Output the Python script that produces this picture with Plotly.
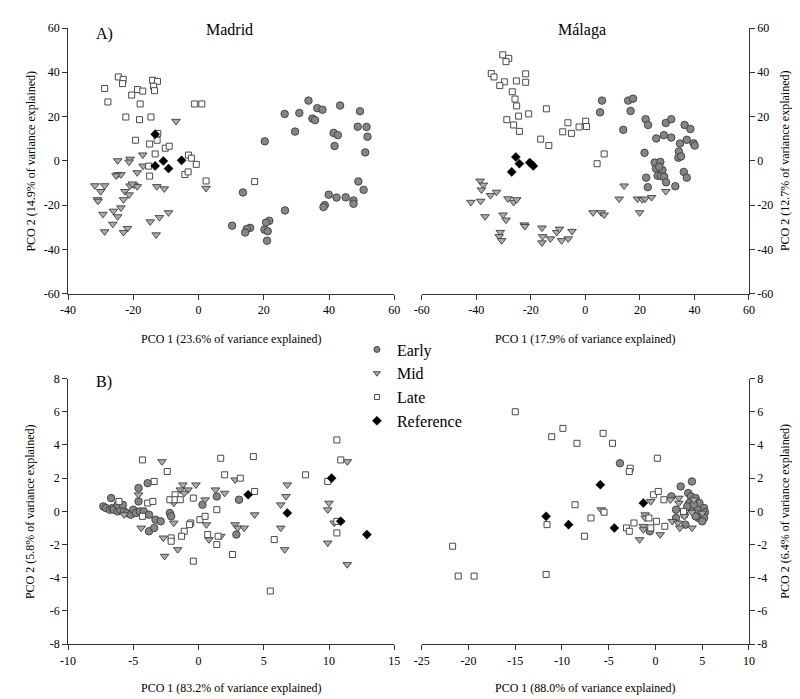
import plotly.graph_objects as go

# ---------------- Data ----------------
# Panel A, Madrid
madrid_a_early_x = [33.7,36.4,38.0,43.4,49.5,26.4,30.9,34.9,35.7,48.8,51.5,51.8,29.6,41.4,42.7,41.7,51.1,20.3,49.0,50.6,39.9,42.3,45.1,47.5,47.5,38.7,38.3,13.6,10.3,26.5,21.7,20.7,15.8,14.8,14.3,20.2,21.2,21.0]
madrid_a_early_y = [27.2,23.8,23.1,25.0,22.4,21.2,21.6,19.1,18.4,15.4,15.3,10.9,13.2,12.6,11.6,6.7,3.8,8.8,-9.3,-13.1,-15.3,-16.6,-16.5,-17.9,-19.4,-20.0,-20.9,-14.3,-29.3,-22.4,-27.1,-27.9,-30.3,-30.8,-32.4,-31.1,-31.8,-36.1]
madrid_a_mid_x = [-6.9,-24.8,-21.0,-21.3,-17.1,-17.0,-18.8,-24.8,-23.8,-25.3,-31.8,-28.8,-30.0,-31.0,-30.8,-21.0,-19.8,-18.8,-20.3,-22.6,-21.3,-23.0,-12.8,-10.5,-23.8,-26.1,-29.3,-24.8,-26.3,-9.2,-12.0,-14.8,-21.8,-23.0,-28.8,-13.0,2.3]
madrid_a_mid_y = [17.9,0.1,0.8,-0.5,2.7,-2.3,-5.3,-6.2,-6.2,-6.7,-11.2,-11.2,-13.8,-17.5,-18.2,-11.3,-10.9,-11.6,-10.4,-13.8,-15.3,-17.5,-11.6,-12.6,-21.2,-22.7,-24.1,-25.2,-28.6,-23.4,-25.6,-27.5,-30.5,-32.3,-32.0,-33.4,-12.4]
madrid_a_late_x = [-24.6,-23.1,-23.3,-28.8,-14.1,-12.6,-13.8,-13.5,-18.7,-17.1,-20.5,-27.8,-17.9,-1.2,1.0,-22.3,-18.1,-14.6,-12.5,-19.3,-15.0,-12.7,-10.2,-9.0,-13.3,-3.1,-2.2,-0.7,-15.3,-15.0,-4.2,-3.2,2.3,17.2]
madrid_a_late_y = [37.9,36.8,34.9,32.7,36.4,35.9,33.7,31.7,32.2,31.5,29.7,26.6,25.7,25.7,25.7,19.8,18.6,19.8,12.4,9.3,7.6,9.3,5.7,6.6,3.1,2.6,1.2,-1.6,-2.4,-6.9,-6.2,-5.0,-9.1,-9.4]
madrid_a_ref_x = [-13.3,-13.3,-10.8,-9.2,-5.2]
madrid_a_ref_y = [12.0,-2.3,-0.1,-3.5,0.2]

# Panel A, Malaga
malaga_a_early_x = [6.1,5.4,15.7,17.5,16.6,22.1,23.0,29.5,31.5,36.4,38.5,13.9,26.0,28.8,31.5,34.7,37.2,39.7,40.1,21.7,34.3,34.1,35.1,25.4,27.5,25.9,28.3,26.5,27.7,28.9,29.6,22.3,22.9,33.0,36.1,37.2,27.1]
malaga_a_early_y = [27.2,21.9,27.2,28.1,22.5,18.8,16.2,17.1,18.8,16.2,14.4,14.0,10.1,11.6,10.5,7.8,9.5,7.9,6.9,3.6,4.2,1.4,2.0,-0.8,-0.5,-3.5,-4.2,-6.7,-6.9,-7.2,-9.7,-7.6,-11.9,-11.5,-5.0,-7.6,-2.7]
malaga_a_mid_x = [-38.6,-37.4,-38.1,-42.0,-38.4,-34.8,-32.6,-28.4,-26.3,-25.2,-36.8,-30.2,-29.1,-22.4,-22.2,-31.2,-31.6,-30.7,-15.9,-15.7,-15.9,-12.8,-10.5,-9.5,-8.7,-6.3,-4.9,14.2,12.4,19.1,20.9,21.9,24.3,29.5,2.8,5.8,6.9,19.9]
malaga_a_mid_y = [-9.1,-10.9,-13.1,-18.7,-18.2,-15.6,-14.1,-17.1,-18.7,-17.5,-25.2,-24.4,-26.7,-28.9,-29.6,-32.3,-34.2,-36.0,-30.3,-34.2,-37.0,-35.2,-32.3,-30.8,-36.0,-35.2,-31.8,-11.3,-17.2,-17.2,-17.5,-17.2,-16.5,-13.8,-23.4,-23.4,-24.4,-23.4]
malaga_a_late_x = [-30.3,-28.1,-29.1,-34.5,-33.5,-29.7,-31.4,-25.3,-21.9,-21.9,-26.8,-25.8,-25.2,-28.8,-26.3,-24.5,-24.2,-20.8,-14.3,-16.4,-13.4,-6.4,-8.3,-5.1,0.1,-2.3,0.4,6.9,4.3]
malaga_a_late_y = [47.9,46.3,44.8,39.4,37.9,35.7,34.0,36.1,39.3,35.5,31.2,27.9,24.8,18.6,16.2,20.2,13.3,21.2,23.5,9.8,6.9,17.2,13.1,12.4,17.9,15.3,15.5,3.1,-1.3]
malaga_a_ref_x = [-25.5,-24.2,-20.4,-19.1,-27.0]
malaga_a_ref_y = [1.7,-1.3,-0.8,-2.3,-5.0]

# Panel B, Madrid
madrid_b_early_x = [-3.9,-4.6,-4.6,-6.7,1.4,0.3,3.1,2.9,-7.3,-7.1,-6.8,-6.6,-6.5,-6.2,-6.0,-5.7,-5.5,-5.2,-5.0,-4.8,-4.5,-4.2,-3.8,-6.2,-5.8,-2.2,-2.1,-3.3,-2.9,-3.8,-3.4]
madrid_b_early_y = [1.7,1.4,0.6,0.8,0.9,0.4,0.7,-1.4,0.3,0.2,0.1,0.2,0.1,0.0,0.1,0.0,-0.1,-0.2,0.1,-0.1,0.0,0.0,-0.2,0.4,0.4,-0.1,-0.3,-0.5,-0.6,-1.2,-1.0]
madrid_b_mid_x = [-2.8,-1.2,-0.2,-1.4,-0.8,-1.1,-4.6,-1.9,0.5,1.3,2.0,2.8,-5.7,-1.9,0.6,-4.4,-2.7,0.8,1.7,-1.6,-2.6,11.4,6.8,6.7,6.3,10.0,9.9,4.3,2.8,3.0,3.5,6.3,10.4,6.6,9.9,11.4]
madrid_b_mid_y = [3.0,1.6,1.6,1.3,1.3,1.1,1.0,0.5,0.7,1.3,1.1,1.9,-0.2,-0.7,-0.8,-1.0,-1.6,-1.7,-1.5,-2.3,-2.7,3.0,1.6,0.9,0.4,0.5,0.1,-0.2,-0.8,-1.0,-1.0,-1.0,-0.7,-2.3,-1.9,-3.2]
madrid_b_late_x = [-4.3,-2.4,-3.4,-6.1,-3.9,-3.5,-1.8,-2.2,-1.8,-1.4,-0.4,-4.3,1.4,0.1,0.5,-0.6,-0.7,-1.1,-1.3,-2.1,-2.1,0.7,1.5,1.4,2.6,-0.4,1.7,2.0,3.2,10.6,10.9,4.2,4.3,8.2,9.9,5.8,10.6,10.6,5.5]
madrid_b_late_y = [3.1,2.4,1.8,0.6,0.5,0.6,1.0,0.7,0.7,0.7,0.8,-0.3,0.1,-0.5,-0.3,-0.7,-0.8,-1.2,-1.5,-1.6,-1.8,-1.4,-1.5,-2.0,-2.6,-3.0,3.2,2.2,2.0,4.3,3.1,3.3,1.2,2.2,1.8,-1.7,-0.6,-1.3,-4.8]
madrid_b_ref_x = [10.2,3.8,6.8,10.9,12.9]
madrid_b_ref_y = [2.0,1.0,-0.1,-0.6,-1.4]

# Panel B, Malaga
malaga_b_early_x = [-3.8,2.7,3.9,1.7,3.5,3.8,4.3,3.6,4.7,2.2,3.9,4.5,5.2,5.3,5.0,4.6,5.2,5.0,4.3,2.2,3.2,-0.6,3.1,3.4,4.1]
malaga_b_early_y = [2.9,1.5,1.8,0.9,1.1,0.9,0.8,0.5,0.5,0.1,0.1,0.1,0.2,-0.05,-0.3,-0.4,-0.4,-0.6,-0.3,-0.4,-0.8,-1.2,-0.2,0.3,0.4]
malaga_b_mid_x = [-5.8,-0.5,1.6,2.5,2.5,-1.1,-1.1,1.8,2.4,3.1,3.9,-1.3,-1.3,2.6,3.9,0.5,-1.7,5.0,4.1]
malaga_b_mid_y = [0.1,0.6,0.7,0.8,0.5,-0.2,-0.4,-0.6,-0.7,-0.3,-0.05,-0.9,-1.1,-1.0,-1.0,-1.4,-1.7,-0.1,0.7]
malaga_b_late_x = [-15.0,-9.9,-11.1,-8.4,-8.6,-11.6,-7.6,-21.7,-21.1,-19.4,-11.7,-5.6,-4.6,0.2,-2.7,-2.8,-5.5,-6.9,-0.2,0.3,0.9,-0.7,-2.3,-3.1,-2.8,0.1,-0.5,1.0,3.0]
malaga_b_late_y = [6.0,5.0,4.5,4.1,0.4,-0.8,-1.5,-2.1,-3.9,-3.9,-3.8,4.7,4.1,3.2,2.6,2.4,-0.05,-0.4,1.0,1.2,0.7,-0.4,-0.7,-1.0,-1.2,-0.6,-1.0,-0.9,0.0]
malaga_b_ref_x = [-11.7,-9.3,-5.9,-1.3,-4.4]
malaga_b_ref_y = [-0.3,-0.8,1.6,0.5,-1.0]

# Tick values / labels
a_left_xticks = [-40, -20, 0, 20, 40, 60]
a_right_xticks = [-60, -40, -20, 0, 20, 40, 60]
a_yticks = [-60, -40, -20, 0, 20, 40, 60]
b_left_xticks = [-10, -5, 0, 5, 10, 15]
b_right_xticks = [-25, -20, -15, -10, -5, 0, 5, 10]
b_yticks = [-8, -6, -4, -2, 0, 2, 4, 6, 8]

group_names = ["Early", "Mid", "Late", "Reference"]

# ---------------- Styling ----------------
FONT = "Liberation Serif, Times New Roman, serif"
INK = "#000000"
styles = {
    "Early": dict(symbol="circle", size=7.5, color="#858585", line=dict(color="#3c3c3c", width=0.9)),
    "Mid": dict(symbol="triangle-down", size=7.5, color="#ababab", line=dict(color="#3c3c3c", width=0.9)),
    "Late": dict(symbol="square", size=6, color="#ffffff", line=dict(color="#4a4a4a", width=1)),
    "Reference": dict(symbol="diamond", size=7, color="#000000", line=dict(color="#000000", width=0.5)),
}

fig = go.Figure()

panels = [
    ("x", "y", [(madrid_a_early_x, madrid_a_early_y), (madrid_a_mid_x, madrid_a_mid_y),
                (madrid_a_late_x, madrid_a_late_y), (madrid_a_ref_x, madrid_a_ref_y)]),
    ("x2", "y2", [(malaga_a_early_x, malaga_a_early_y), (malaga_a_mid_x, malaga_a_mid_y),
                  (malaga_a_late_x, malaga_a_late_y), (malaga_a_ref_x, malaga_a_ref_y)]),
    ("x3", "y3", [(madrid_b_early_x, madrid_b_early_y), (madrid_b_mid_x, madrid_b_mid_y),
                  (madrid_b_late_x, madrid_b_late_y), (madrid_b_ref_x, madrid_b_ref_y)]),
    ("x4", "y4", [(malaga_b_early_x, malaga_b_early_y), (malaga_b_mid_x, malaga_b_mid_y),
                  (malaga_b_late_x, malaga_b_late_y), (malaga_b_ref_x, malaga_b_ref_y)]),
]

for xa, ya, series in panels:
    for name, (xs, ys) in zip(group_names, series):
        fig.add_trace(go.Scatter(x=xs, y=ys, mode="markers", name=name, showlegend=False,
                                 xaxis=xa, yaxis=ya, marker=styles[name], cliponaxis=False))

# legend-only traces (smaller symbols like the reference)
legend_sizes = {"Early": 6, "Mid": 6, "Late": 5, "Reference": 7}
for name in group_names:
    st = dict(styles[name])
    st["size"] = legend_sizes[name]
    fig.add_trace(go.Scatter(x=[None], y=[None], mode="markers", name=name, showlegend=True,
                             xaxis="x", yaxis="y", marker=st))

W, H = 800, 699
L1, R1 = 53, 385
L2, R2 = 413, 746
TA, BA = 13.3, 284.3
TB, BB = 371, 642

def px(v):
    return v / W

def py(v):
    return 1 - v / H

def fmt(v):
    return str(v)

axis_common = dict(showgrid=False, zeroline=False, showline=True, linecolor="#333333", linewidth=1,
                   ticks="outside", ticklen=5, tickcolor="#333333", tickwidth=1,
                   tickfont=dict(family=FONT, size=12, color=INK), tickmode="array",
                   fixedrange=True)

fig.update_layout(
    xaxis=dict(domain=[px(L1), px(R1)], anchor="y", range=[-40, 60], tickvals=a_left_xticks,
               ticktext=[fmt(v) for v in a_left_xticks], **axis_common),
    yaxis=dict(domain=[py(BA), py(TA)], anchor="x", range=[-60, 60], tickvals=a_yticks,
               ticktext=[fmt(v) for v in a_yticks], side="left", **axis_common),
    xaxis2=dict(domain=[px(L2), px(R2)], anchor="y2", range=[-60, 60], tickvals=a_right_xticks,
                ticktext=[fmt(v) for v in a_right_xticks], **axis_common),
    yaxis2=dict(domain=[py(BA), py(TA)], anchor="x2", range=[-60, 60], tickvals=a_yticks,
                ticktext=[fmt(v) for v in a_yticks], side="right", **axis_common),
    xaxis3=dict(domain=[px(L1), px(R1)], anchor="y3", range=[-10, 15], tickvals=b_left_xticks,
                ticktext=[fmt(v) for v in b_left_xticks], **axis_common),
    yaxis3=dict(domain=[py(BB), py(TB)], anchor="x3", range=[-8, 8], tickvals=b_yticks,
                ticktext=[fmt(v) for v in b_yticks], side="left", **axis_common),
    xaxis4=dict(domain=[px(L2), px(R2)], anchor="y4", range=[-25, 10], tickvals=b_right_xticks,
                ticktext=[fmt(v) for v in b_right_xticks], **axis_common),
    yaxis4=dict(domain=[py(BB), py(TB)], anchor="x4", range=[-8, 8], tickvals=b_yticks,
                ticktext=[fmt(v) for v in b_yticks], side="right", **axis_common),
    width=W, height=H, margin=dict(l=0, r=0, t=0, b=0),
    paper_bgcolor="white", plot_bgcolor="white",
    font=dict(family=FONT, color=INK),
    showlegend=True,
    legend=dict(x=px(347), y=py(324), xanchor="left", yanchor="top",
                font=dict(family=FONT, size=16, color=INK),
                bgcolor="rgba(0,0,0,0)", borderwidth=0, itemsizing="trace",
                tracegroupgap=0),
)

ann = []
def text(t, x, y, size=12, angle=0, xanchor="center"):
    ann.append(dict(text=t, x=px(x), y=py(y), xref="paper", yref="paper", showarrow=False,
                    xanchor=xanchor, yanchor="middle", textangle=angle,
                    font=dict(family=FONT, size=size, color=INK)))

text("PCO 1 (23.6% of variance explained)", (L1 + R1) / 2, 331)
text("PCO 1 (17.9% of variance explained)", (L2 + R2) / 2, 331)
text("PCO 1 (83.2% of variance explained)", (L1 + R1) / 2, 687)
text("PCO 1 (88.0% of variance explained)", (L2 + R2) / 2, 687)
text("PCO 2 (14.9% of variance explained)", 15, (TA + BA) / 2, angle=-90)
text("PCO 2 (12.7% of variance explained)", 783, (TA + BA) / 2, angle=-90)
text("PCO 2 (5.8% of variance explained)", 15, (TB + BB) / 2, angle=-90)
text("PCO 2 (6.4% of variance explained)", 783, (TB + BB) / 2, angle=-90)
text("A)", 79, 19, size=16, xanchor="left")
text("B)", 79, 374, size=16, xanchor="left")
text("Madrid", 217, 15, size=16)
text("Málaga", 576, 15, size=16)
fig.update_layout(annotations=ann)

fig.write_html("out.html")
